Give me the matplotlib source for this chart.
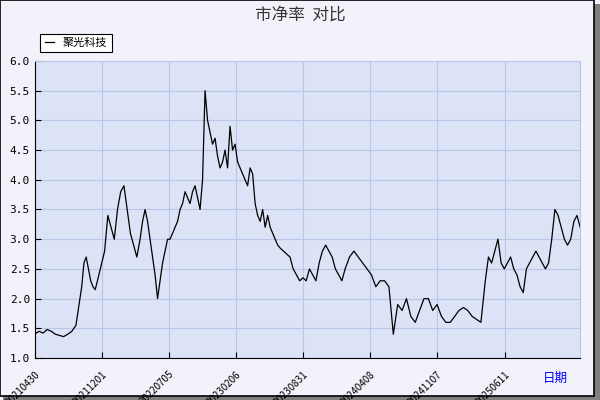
import matplotlib
matplotlib.use("Agg")
import matplotlib.pyplot as plt
import numpy as np
from matplotlib.patches import Rectangle

plt.rcParams['font.family'] = ['Noto Sans CJK SC', 'DejaVu Sans']

# segments of the series: (start day, end day, values)
seg_values = [
    [1.4,1.45,1.42,1.48,1.45,1.4,1.38,1.36,1.4,1.45,1.55],
    [2.2,2.6,2.7,2.5,2.3,2.2,2.15,2.3],
    [2.8,3.4,3.2,3.0,3.5,3.8,3.9,3.5,3.1,2.9,2.7],
    [3.0,3.3,3.5,3.3,3.0,2.7,2.4,2.0,2.3,2.6,2.8,3.0],
    [3.0,3.1,3.2,3.3,3.5,3.6,3.8,3.7,3.6,3.8,3.9,3.7,3.5,4.0,5.5,5.0,4.8,4.6,4.7,4.4,4.2,4.3,4.5,4.2],
    [4.9,4.5,4.6,4.3,4.2,4.1,4.0,3.9,4.2,4.1,3.6,3.4,3.3,3.5,3.2,3.4,3.2,3.1,3.0,2.9],
    [2.85,2.8,2.75,2.7,2.5,2.4,2.3,2.35,2.3,2.5,2.4,2.3,2.6,2.8,2.9,2.8,2.7,2.5,2.4,2.3],
    [2.5,2.7,2.8,2.7,2.6,2.5,2.4,2.2,2.3,2.3,2.2,1.4,1.9,1.8,2.0,1.7,1.6,1.8,2.0,2.0,1.8,1.9,
     1.7,1.6,1.6,1.7,1.8,1.85,1.8,1.7,1.65,1.6],
    [2.3,2.7,2.6,2.8,3.0,2.6,2.5,2.6,2.7,2.5,2.4,2.2,2.1,2.5,2.6,2.7,2.8,2.7,2.6,2.5,2.6,3.0,3.5,
     3.4,3.2,3.0,2.9,3.0,3.3,3.4,3.2],
]
seg_days = [(0,83),(86,119),(128,193),(193,248),(248,358),(358,450),(450,569),(569,826),(826,1000)]
tick_days = [0,123,246,369,492,615,738,862]
tick_labels = ['20210430','20211201','20220705','20230206','20230831','20240408','20241107','20250611']
yticks = [1.0,1.5,2.0,2.5,3.0,3.5,4.0,4.5,5.0,5.5,6.0]

xs, ys = [], []
for (a, b), v in zip(seg_days, seg_values):
    xs.extend(np.linspace(a, b, len(v), endpoint=False) if (a, b) != seg_days[-1] else np.linspace(a, b, len(v)))
    ys.extend(v)

fig = plt.figure(figsize=(6,4), dpi=100)
fig.patch.set_facecolor('#f2f2fa')
fig.patches.append(Rectangle((0.005,0.0),0.995,0.99,transform=fig.transFigure,fill=True,fc='#808080',ec='none',zorder=-2))
fig.patches.append(Rectangle((0.0,0.01),0.99,0.99,transform=fig.transFigure,fill=True,fc='#f2f2fa',ec='black',lw=1.2,zorder=-1))

ax = fig.add_axes([0.058,0.105,0.909,0.7425])
ax.set_facecolor('#dce3f6')
ax.plot(xs, ys, color='black', lw=0.9)
ax.set_xlim(0, 1000)
ax.set_ylim(1.0, 6.0)
ax.set_yticks(yticks)
ax.set_yticklabels([f'{v:.1f}' for v in yticks], fontsize=8, family='DejaVu Sans Mono')
ax.set_xticks(tick_days)
ax.set_xticklabels(tick_labels, rotation=45, fontsize=7, ha='right', rotation_mode='anchor')
ax.grid(True, color='#b8c6e8', lw=0.8)
for s in ['top','right']:
    ax.spines[s].set_color('#b8c6e8')
ax.tick_params(direction='in', length=4)
ax.tick_params(axis='x', pad=8)
fig.text(0.5, 0.963, '市净率  对比', ha='center', va='center', fontsize=12, color='#333333')
fig.text(0.925, 0.045, '日期', color='blue', fontsize=9, ha='center')
leg = ax.legend(['聚光科技'], loc='lower left', bbox_to_anchor=(0.0, 1.01), fontsize=8,
                fancybox=False, edgecolor='black', framealpha=1, handlelength=0.8, borderpad=0.4)
leg.get_frame().set_linewidth(0.8)
fig.savefig('out.png', dpi=100)
